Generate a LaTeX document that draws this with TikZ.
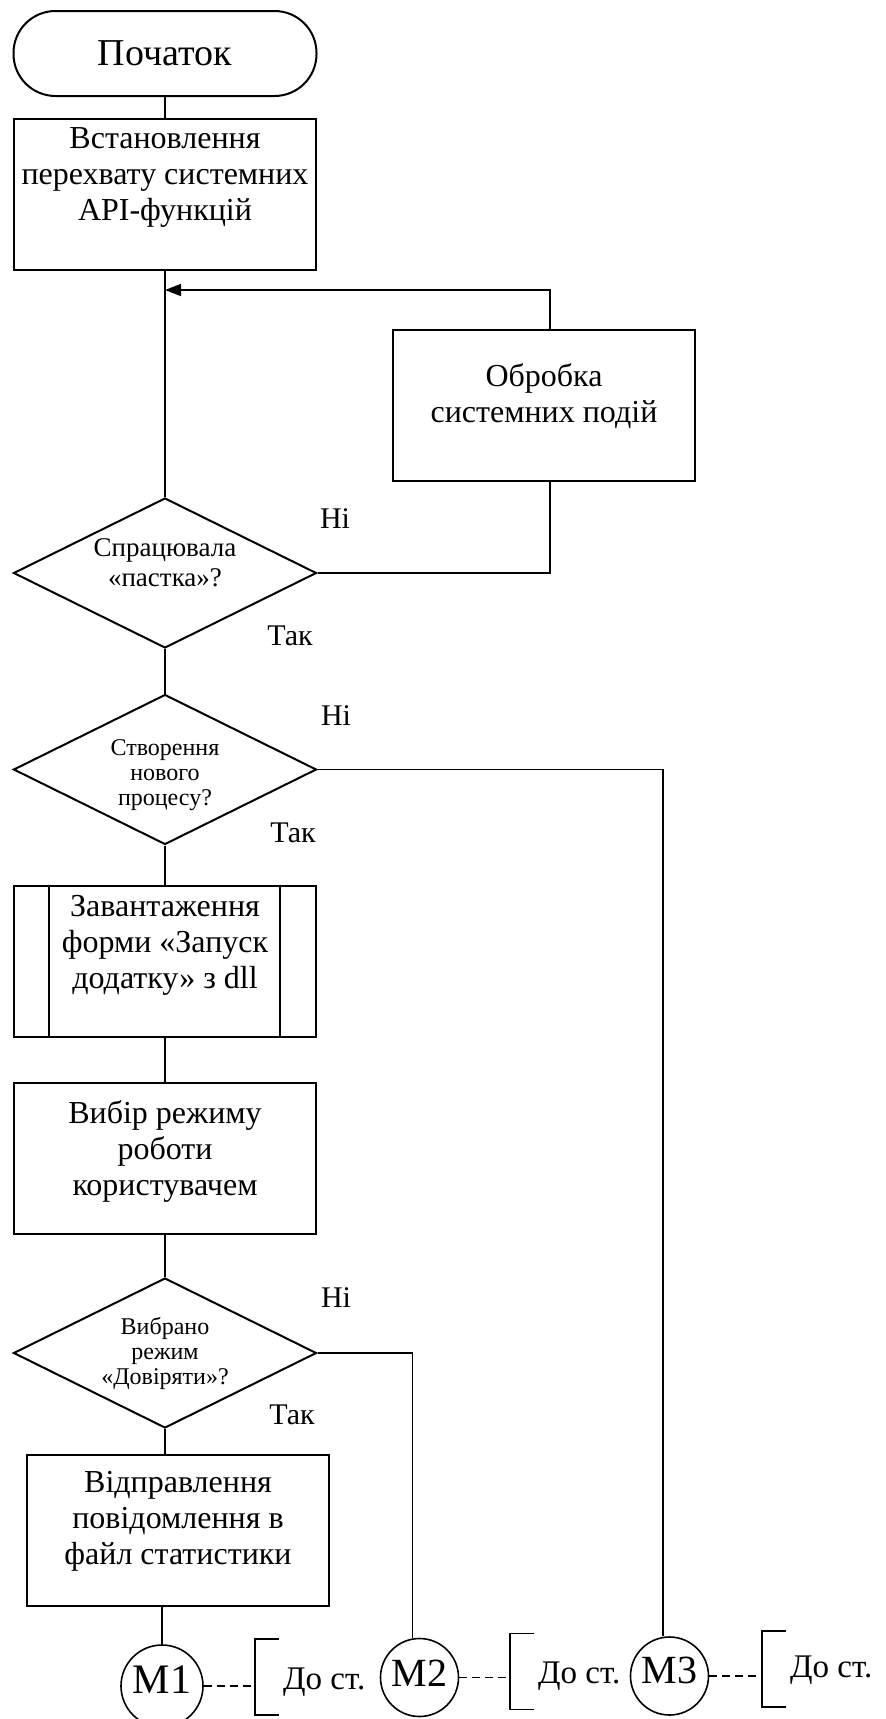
\documentclass[tikz,border=0pt]{standalone}
\usepackage{fontspec}
\setmainfont{Liberation Serif}
\usetikzlibrary{calc,positioning,shapes.geometric,arrows.meta}
\newcommand{\boxfont}{\fontsize{32}{36}\selectfont}
\newcommand{\termfont}{\fontsize{38}{40}\selectfont}
\newcommand{\trapfont}{\fontsize{27}{30}\selectfont}
\newcommand{\decfont}{\fontsize{24}{25}\selectfont}
\newcommand{\lblfont}{\fontsize{30}{34}\selectfont}
\newcommand{\markfont}{\fontsize{40}{42}\selectfont}
\newcommand{\notefont}{\fontsize{33}{36}\selectfont}
\newcommand{\txtlift}[1]{\rule[-#1pt]{0pt}{#1pt}}
\newcommand{\txtdrop}[1]{\rule{0pt}{#1pt}}
\tikzset{
  conn/.style={line width=1.6pt},
  dashcon/.style={conn,dash pattern=on 8pt off 5pt},
  procbox/.style={draw,line width=2pt,rectangle,minimum width=302pt,minimum height=151pt,inner sep=0pt,align=center,font=\boxfont},
  termbox/.style={procbox,rounded corners=42pt,minimum width=303pt,minimum height=85pt,font=\termfont},
  decbox/.style={draw,line width=2pt,diamond,aspect=2,minimum width=303pt,minimum height=150pt,inner sep=0pt,align=center,font=\decfont},
  pagecon/.style={draw,line width=1.6pt,circle,minimum size=78pt,inner sep=0pt,font=\markfont},
  yesno/.style={font=\lblfont,inner sep=0pt},
  notetxt/.style={anchor=west,font=\notefont,inner sep=0pt},
}
\newcommand{\tonote}[4]{%
  \coordinate (#1b) at (#2,#3);
  \draw[conn] ($(#1b)+(24,-38)$) -- ++(-24,0) -- ++(0,76) -- ++(24,0);
  \node[notetxt] (#1t) at ($(#1b)+(28,#4)$) {До ст.};
  \draw[dashcon] (#1.east) -- (#1.east -| #1b);
}

\begin{document}
\begin{tikzpicture}[x=1pt,y=-1pt]
        \useasboundingbox (0,0) rectangle (886,1719);
        \node[termbox] (start) at (165,53.5) {Початок};
        \node[procbox] (hook) at (165,194) {Встановлення\\перехвату системних\\API-функцій\txtlift{39}};
        \node[procbox] (events) at (544,405.5) {Обробка\\системних подій\txtlift{25}};
        \node[decbox,font=\trapfont] (trap) at (165,573) {Спрацювала\\«пастка»?\txtlift{21}};
        \node[decbox] (newproc) at (165,769.5) {\txtdrop{27}Створення\\нового\\процесу?};
        \node[procbox] (loadform) at (165,961) {Завантаження\\форми «Запуск\\додатку» з dll\txtlift{39}};
        \node[procbox] (mode) at (165,1158.5) {Вибір режиму\\роботи\\користувачем\txtlift{21}};
        \node[decbox] (trust) at (165,1353) {Вибрано\\режим\\«Довіряти»?};
        \node[procbox] (stat) at (178,1530.5) {Відправлення\\повідомлення в\\файл статистики\txtlift{25}};
        \node[pagecon,minimum size=82pt,font=\fontsize{42}{44}\selectfont] (m1) at (162,1686) {М1\txtlift{12}};
        \node[pagecon] (m2) at (419.5,1677.5) {М2\txtlift{9}};
        \node[pagecon] (m3) at (669.5,1676) {М3\txtlift{11}};
        \draw[conn] ([xshift=36pt]loadform.north west) -- ([xshift=36pt]loadform.south west);
        \draw[conn] ([xshift=-37pt]loadform.north east) -- ([xshift=-37pt]loadform.south east);
        \coordinate (loopr) at (550,290);
        \coordinate (loopl) at (165,290);
        \coordinate (m2top) at ($(m2.north)+(-7,0)$);
        \coordinate (m3top) at ($(m3.north)+(-6.5,0)$);
        \draw[conn] (start) -- (hook);
        \draw[conn] (hook) -- (trap);
        \draw[conn] (trap) -- (newproc);
        \draw[conn] (newproc) -- (loadform);
        \draw[conn] (loadform) -- (mode);
        \draw[conn] (mode) -- (trust);
        \draw[conn] (trust.south) -- (trust.south |- stat.north);
        \draw[conn] (m1.north |- stat.south) -- (m1.north);
        \draw[conn] (trap.east) -- (trap.east -| loopr) -- (events.south -| loopr);
        \draw[conn,-{Triangle[length=16pt,width=12pt]}] (events.north -| loopr) -- (loopr) -- (loopl);
        \draw[conn] (newproc.east) -- (newproc.east -| m3top) -- (m3top);
        \draw[conn] (trust.east) -- (trust.east -| m2top) -- (m2top);
        \node[yesno] (no1) at (335,519) {Ні};
        \node[yesno] (yes1) at (290,636) {Так};
        \node[yesno] (no2) at (336,716) {Ні};
        \node[yesno] (yes2) at (293,833) {Так};
        \node[yesno] (no3) at (336,1298) {Ні};
        \node[yesno] (yes3) at (292,1415) {Так};
        \tonote{m1}{255}{1677}{5}
        \tonote{m2}{510}{1671.5}{4.5}
        \tonote{m3}{762}{1669}{1}
\end{tikzpicture}
\end{document}
